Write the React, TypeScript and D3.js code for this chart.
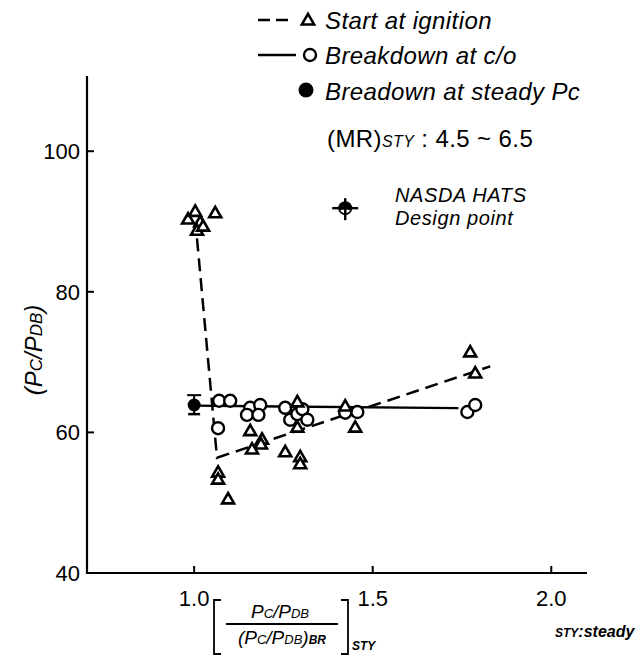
import React from "react";
import * as d3 from "d3";

// Start at ignition (open triangles)
const ignitionPts: [number, number][] = [
  [0.983, 90.2], [1.003, 91.3], [1.017, 89.8], [1.008, 88.6], [1.025, 89.2], [1.059, 91.1],
  [1.067, 54.2], [1.067, 53.2], [1.095, 50.4], [1.157, 60.1], [1.19, 58.9], [1.187, 58.2],
  [1.162, 57.5], [1.255, 57.1], [1.297, 56.4], [1.297, 55.4], [1.289, 60.6], [1.289, 64.2],
  [1.423, 63.6], [1.451, 60.6], [1.773, 71.3], [1.787, 68.3],
];
// Breakdown at c/o (open circles)
const cutoffPts: [number, number][] = [
  [1.070, 64.5], [1.101, 64.5], [1.067, 60.6], [1.157, 63.5], [1.148, 62.5], [1.185, 63.9],
  [1.180, 62.5], [1.255, 63.5], [1.269, 61.8], [1.289, 62.6], [1.303, 63.3], [1.317, 61.8],
  [1.423, 62.8], [1.457, 62.9], [1.765, 62.9], [1.787, 63.9],
];
// Breakdown at steady Pc (filled circle with range bar)
const steadyPts: [number, number, number, number][] = [[1.0, 63.9, 62.6, 65.3]];
// NASDA HATS design point
const designPts: [number, number][] = [[1.423, 91.9]];
// Trend lines
const ignitionTrend: [number, number][] = [[1.008, 87.6], [1.064, 56.4], [1.829, 69.4]];
const cutoffTrend: [number, number][] = [[1.0, 63.8], [1.74, 63.45]];

const xTicks = [1.0, 1.5, 2.0];
const yTicks = [40, 60, 80, 100];

const W = 644;
const H = 657;
const FONT = "'Liberation Sans', Arial, sans-serif";

export default function App() {
  const x = d3.scaleLinear().domain([0.7, 2.1]).range([87, 587]);
  const y = d3.scaleLinear().domain([40, 110.7]).range([573, 76]);
  const line = d3.line<[number, number]>().x((d) => x(d[0])).y((d) => y(d[1]));
  const tri = d3.symbol().type(d3.symbolTriangle).size(62)();
  const triLegend = d3.symbol().type(d3.symbolTriangle).size(66)();

  return (
    <svg
      width={W}
      height={H}
      style={{ position: "absolute", left: 0, top: 0, background: "#fff" }}
      fontFamily={FONT}
    >
      <rect width={W} height={H} fill="#fff" />
      {/* axes */}
      <path
        d={`M${x(0.7)},${y(110.7)} L${x(0.7)},${y(40)} L${x(2.1)},${y(40)}`}
        fill="none"
        stroke="#000"
        strokeWidth={2.2}
      />
      {yTicks.filter((t) => t > 40).map((t) => (
        <line key={t} x1={x(0.7)} x2={x(0.7) + 7} y1={y(t)} y2={y(t)} stroke="#000" strokeWidth={2} />
      ))}
      {yTicks.map((t) => (
        <text key={t} x={x(0.7) - 7} y={y(t) + 8} textAnchor="end" fontSize={22}>
          {t}
        </text>
      ))}
      {xTicks.map((t) => (
        <g key={t}>
          <line x1={x(t)} x2={x(t)} y1={y(40)} y2={y(40) - 7} stroke="#000" strokeWidth={2} />
          <text x={x(t)} y={606} textAnchor="middle" fontSize={22}>
            {t.toFixed(1)}
          </text>
        </g>
      ))}

      {/* y axis title */}
      <text
        transform={`translate(42,350) rotate(-90)`}
        textAnchor="middle"
        fontSize={24}
        fontStyle="italic"
      >
        (P<tspan fontSize={17}>C</tspan>/P<tspan fontSize={17}>DB</tspan>)
      </text>

      {/* x axis title */}
      <g fontStyle="italic">
        <text x={280} y={618} textAnchor="middle" fontSize={19}>
          P<tspan fontSize={13}>C</tspan>/P<tspan fontSize={13}>DB</tspan>
        </text>
        <line x1={226} x2={338} y1={624} y2={624} stroke="#000" strokeWidth={1.8} />
        <text x={282} y={644} textAnchor="middle" fontSize={19}>
          (P<tspan fontSize={13}>C</tspan>/P<tspan fontSize={13}>DB</tspan>)<tspan fontSize={12} fontWeight="bold">BR</tspan>
        </text>
        <path d="M221,600 L214,600 L214,654 L221,654" fill="none" stroke="#000" strokeWidth={1.8} />
        <path d="M341,600 L348,600 L348,654 L341,654" fill="none" stroke="#000" strokeWidth={1.8} />
        <text x={352} y={650} fontSize={12} fontWeight="bold">STY</text>
        <text x={555} y={637} fontSize={16} fontWeight="bold">
          <tspan fontSize={12}>STY</tspan>:steady
        </text>
      </g>

      {/* trend lines */}
      <path d={line(ignitionTrend) ?? ""} fill="none" stroke="#000" strokeWidth={2.5} strokeDasharray="13,7" />
      <path d={line(cutoffTrend) ?? ""} fill="none" stroke="#000" strokeWidth={2.3} />

      {/* steady-Pc breakdown */}
      {steadyPts.map((d, i) => (
        <g key={i}>
          <line x1={x(d[0])} x2={x(d[0])} y1={y(d[2])} y2={y(d[3])} stroke="#000" strokeWidth={2} />
          <line x1={x(d[0]) - 7} x2={x(d[0]) + 7} y1={y(d[3])} y2={y(d[3])} stroke="#000" strokeWidth={2} />
          <line x1={x(d[0]) - 6} x2={x(d[0]) + 6} y1={y(d[2])} y2={y(d[2])} stroke="#000" strokeWidth={2.5} />
          <circle cx={x(d[0])} cy={y(d[1])} r={6.5} fill="#000" />
        </g>
      ))}

      {/* c/o breakdown */}
      {cutoffPts.map((d, i) => (
        <circle key={i} cx={x(d[0])} cy={y(d[1])} r={6} fill="#fff" stroke="#000" strokeWidth={2.4} />
      ))}

      {/* ignition start */}
      {ignitionPts.map((d, i) => (
        <path
          key={i}
          d={tri ?? ""}
          transform={`translate(${x(d[0])},${y(d[1])})`}
          fill="#fff"
          stroke="#000"
          strokeWidth={2.6}
        />
      ))}

      {/* design point */}
      {designPts.map((d, i) => (
        <g key={i} transform={`translate(${x(d[0])},${y(d[1])})`}>
          <circle r={7} fill="#000" />
          <path d="M-5,2 A5,5 0 0,0 -1,5 L-1,1 Z M5,2 A5,5 0 0,1 1,5 L1,1 Z" fill="#fff" />
          <line x1={-13} x2={13} y1={0} y2={0} stroke="#000" strokeWidth={2.4} />
          <line x1={0} x2={0} y1={-10} y2={12} stroke="#000" strokeWidth={2.4} />
        </g>
      ))}
      <g fontSize={20} fontStyle="italic" letterSpacing={0.6}>
        <text x={395} y={202}>NASDA HATS</text>
        <text x={395} y={225}>Design point</text>
      </g>

      {/* legend */}
      <g fontStyle="italic" fontSize={24} letterSpacing={0.4}>
        <line x1={258} x2={294} y1={20} y2={20} stroke="#000" strokeWidth={2.5} strokeDasharray="12,6" />
        <path d={triLegend ?? ""} transform="translate(308,21)" fill="#fff" stroke="#000" strokeWidth={2.5} />
        <text x={325} y={29}>Start at ignition</text>

        <line x1={258} x2={296} y1={55} y2={55} stroke="#000" strokeWidth={2.3} />
        <circle cx={310} cy={55} r={6} fill="#fff" stroke="#000" strokeWidth={2.4} />
        <text x={325} y={64}>Breakdown at c/o</text>

        <circle cx={306} cy={90} r={7.5} fill="#000" />
        <text x={325} y={100}>Breadown at steady Pc</text>

        <text x={327} y={147} fontStyle="normal">
          (MR)<tspan fontStyle="italic" fontSize={16}>STY</tspan> : 4.5 ~ 6.5
        </text>
      </g>
    </svg>
  );
}
